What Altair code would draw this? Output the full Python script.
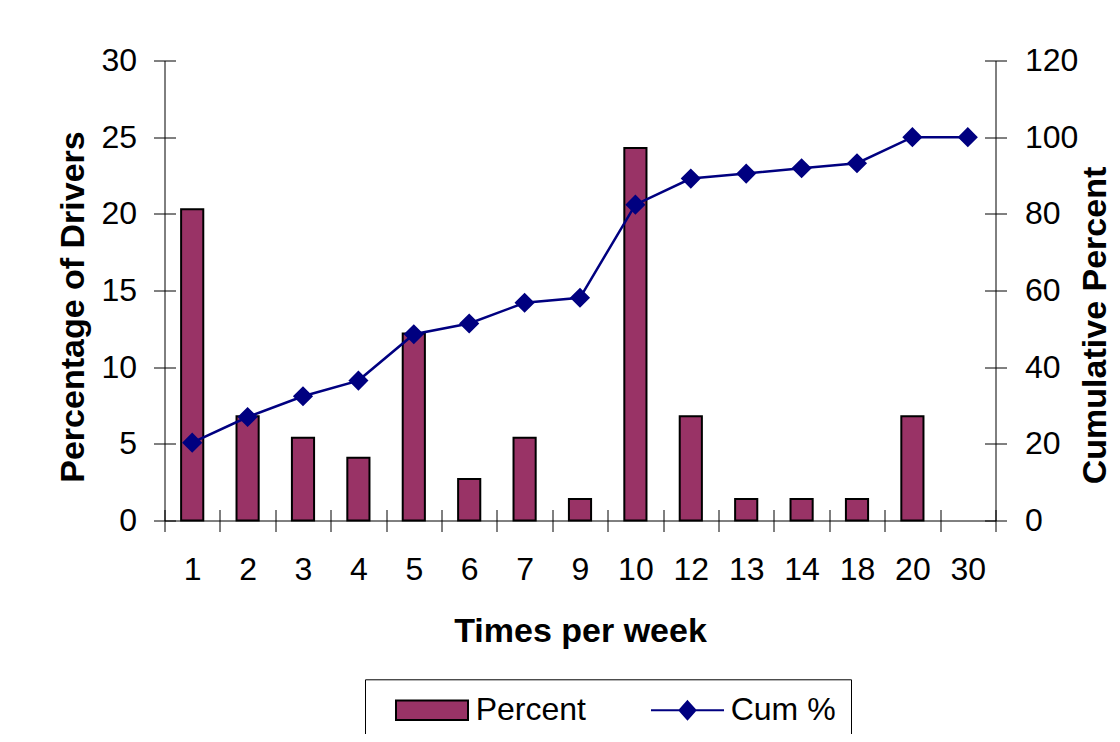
import altair as alt
import pandas as pd

times = ["1", "2", "3", "4", "5", "6", "7", "9", "10", "12", "13", "14", "18", "20", "30"]
percent = [20.3, 6.8, 5.4, 4.1, 12.2, 2.7, 5.4, 1.4, 24.3, 6.8, 1.4, 1.4, 1.4, 6.8, 0.0]
cum_pct = [20.3, 27.0, 32.4, 36.5, 48.6, 51.4, 56.8, 58.1, 82.4, 89.2, 90.5, 91.9, 93.2, 100.0, 100.0]
left_ticks = [0, 5, 10, 15, 20, 25, 30]
right_ticks = [0, 20, 40, 60, 80, 100, 120]
series_names = ["Percent", "Cum %"]

BAR_FILL = "#993366"
LINE_COL = "#000080"
FONT = "Liberation Sans"

df_bar = pd.DataFrame({"times": times, "value": percent, "series": series_names[0]})
df_line = pd.DataFrame({"times": times, "value": cum_pct, "series": series_names[1]})

RECT_PATH = "M0,-0.97H7.2V0.97H0Z"
CUM_PATH = "M0,0H7.3M3.65,-0.9L4.45,0L3.65,0.9L2.85,0Z"


def make_legend():
    return alt.Legend(
        title=None,
        orient="none",
        legendX=200.5,
        legendY=618.8,
        direction="horizontal",
        padding=15,
        strokeColor="black",
        fillColor="white",
        labelFont=FONT,
        labelFontSize=32,
        labelColor="black",
        labelOffset=63.7,
        columnPadding=49,
        symbolSize=400,
        symbolStrokeWidth=2,
        symbolOpacity=1,
        labelLimit=400,
    )


fill_enc = alt.Fill(
    "series:N",
    scale=alt.Scale(domain=series_names, range=[BAR_FILL, LINE_COL]),
    legend=make_legend(),
)
stroke_enc = alt.Stroke(
    "series:N",
    scale=alt.Scale(domain=series_names, range=["black", LINE_COL]),
    legend=make_legend(),
)
shape_enc = alt.Shape(
    "series:N",
    scale=alt.Scale(domain=series_names, range=[RECT_PATH, CUM_PATH]),
    legend=make_legend(),
)

axis_common = dict(
    tickSize=11,
    labelFont=FONT,
    labelFontSize=32,
    labelColor="black",
    titleFont=FONT,
    titleFontSize=34,
    titleFontWeight="bold",
    titleColor="black",
    titleAlign="center",
    titleBaseline="alphabetic",
    domainColor="black",
    tickColor="black",
    grid=True,
    gridColor="black",
    gridOpacity=1,
)

x_enc = alt.X(
    "times:N",
    sort=times,
    scale=alt.Scale(paddingInner=0, paddingOuter=0),
    axis=alt.Axis(
        title="Times per week",
        labelAngle=0,
        tickBand="extent",
        labelPadding=23,
        titleX=415.5,
        titleY=121,
        gridDash=[0, 449, 11, 100],
        **axis_common,
    ),
)

bars = alt.Chart(df_bar).transform_filter("datum.value > 0").mark_bar(
    width=alt.RelativeBandSize(0.4), stroke="black", strokeWidth=2, opacity=1
).encode(
    x=x_enc,
    y=alt.Y(
        "value:Q",
        scale=alt.Scale(domain=[0, 30], nice=False),
        axis=alt.Axis(
            title="Percentage of Drivers",
            values=left_ticks,
            labelPadding=17,
            titleAngle=270,
            titleX=-81.2,
            titleY=246,
            gridDash=[11, 2000],
            **axis_common,
        ),
    ),
    fill=fill_enc,
)

y_right = alt.Y(
    "value:Q",
    scale=alt.Scale(domain=[0, 120], nice=False),
    axis=alt.Axis(
        title="Cumulative Percent",
        orient="right",
        values=right_ticks,
        labelPadding=18,
        titleAngle=270,
        titleX=110,
        titleY=264.5,
        gridDash=[11, 2000],
        **axis_common,
    ),
)

line = alt.Chart(df_line).mark_line(
    strokeWidth=2.5,
    point=alt.OverlayMarkDef(shape="diamond", size=300, filled=True, fill=LINE_COL, opacity=1),
).encode(
    x=alt.X("times:N", sort=times),
    y=y_right,
    stroke=stroke_enc,
)

# legend-only layer (no rows drawn) carrying the symbol shapes for the legend
shapes = alt.Chart(df_line).transform_filter("false").mark_point(filled=True).encode(
    x=alt.X("times:N", sort=times),
    y=alt.Y("value:Q"),
    shape=shape_enc,
)

chart = (
    alt.layer(bars, alt.layer(line, shapes))
    .resolve_scale(y="independent")
    .properties(
        width=831,
        height=460,
        autosize=alt.AutoSizeParams(type="none"),
        padding={"left": 156.5, "top": 52.5, "right": 116.5, "bottom": 213.5},
        background="white",
    )
    .configure_view(stroke=None)
)

chart.save("out.html", embed_options={"renderer": "svg", "actions": False})
